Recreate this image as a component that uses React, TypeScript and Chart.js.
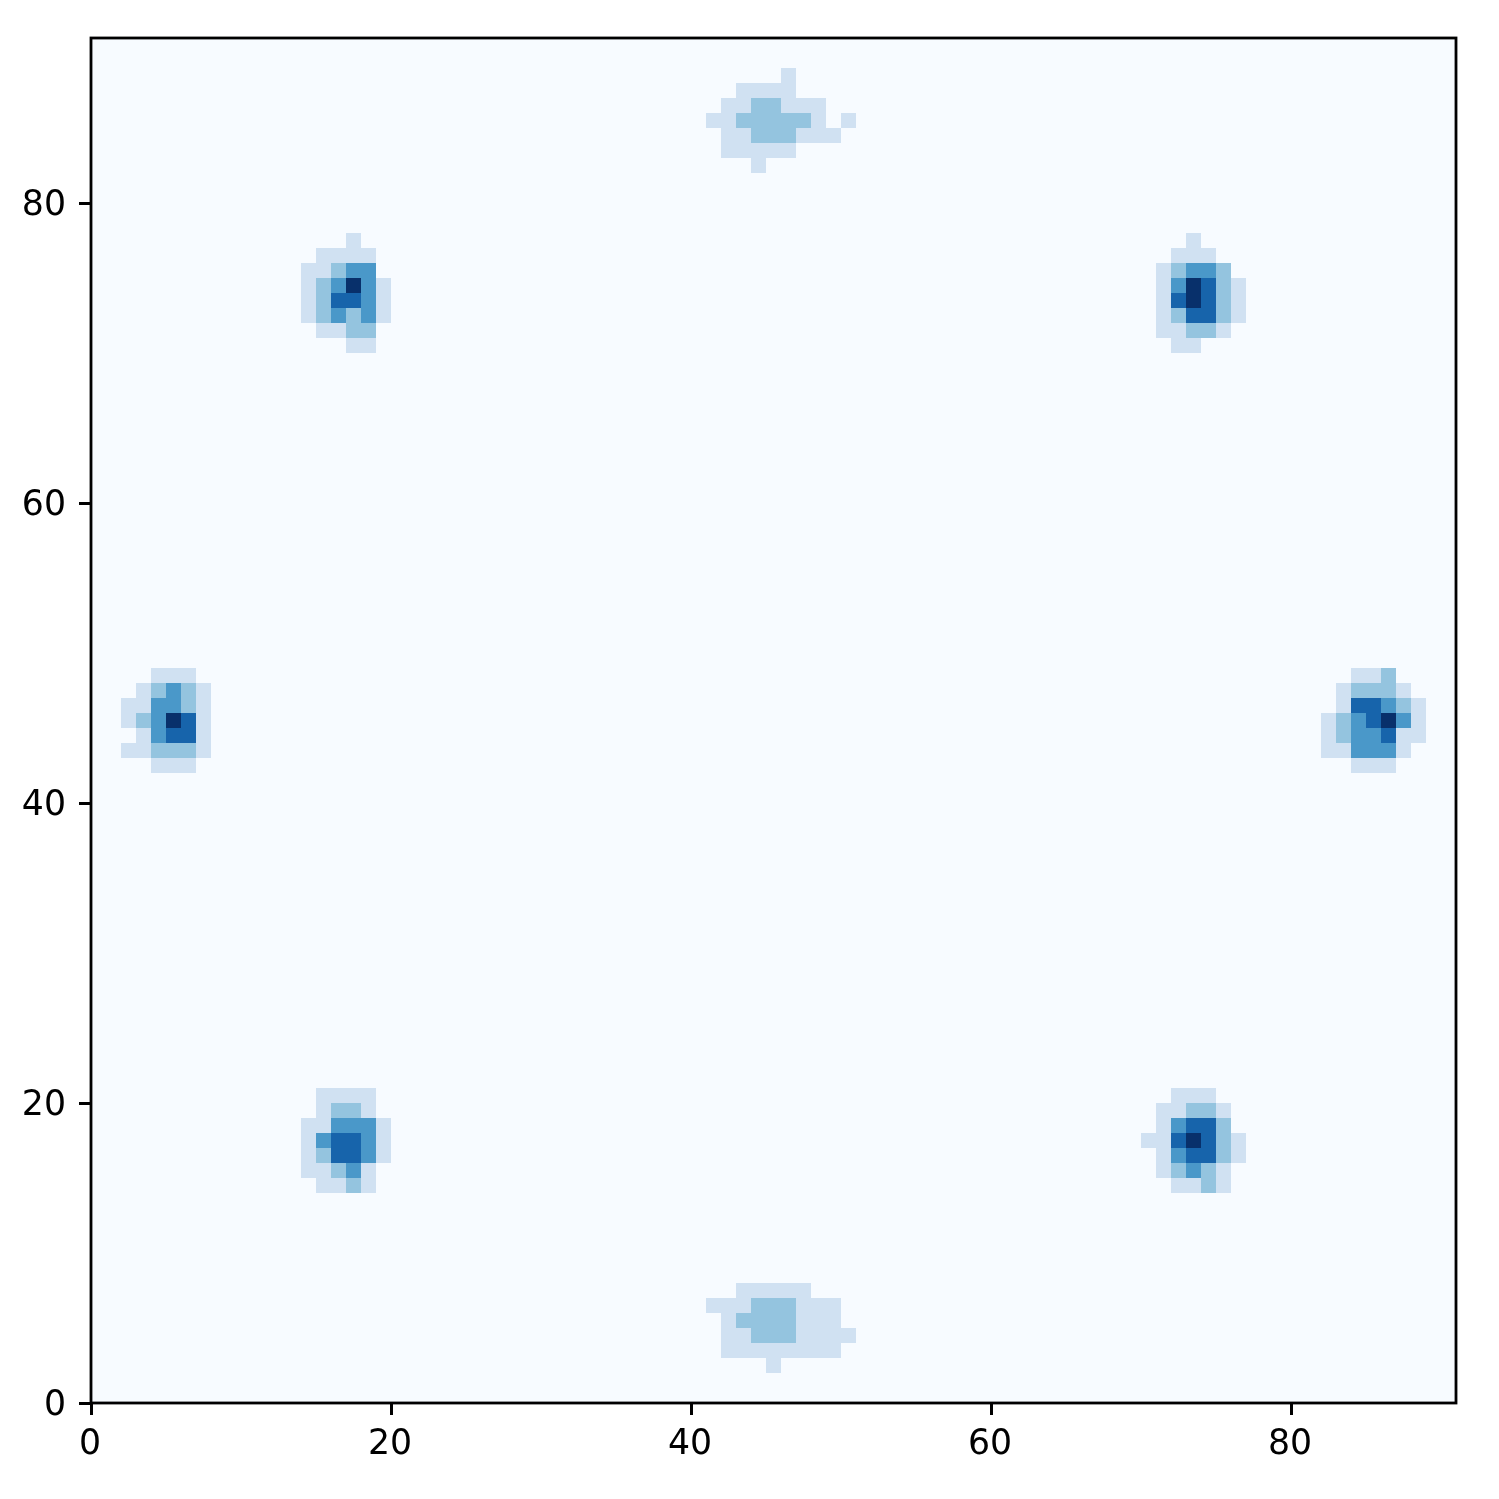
import React, { useEffect, useRef } from "react";
import { Chart, registerables } from "chart.js";

Chart.register(...registerables);

// Each entry: [row, first column, ...levels left to right]
const topCluster = [
  [88, 46, 1],
  [87, 43, 1, 1, 1, 1],
  [86, 42, 1, 1, 2, 2, 1, 1, 1],
  [85, 41, 1, 1, 2, 2, 2, 2, 2, 1, 0, 1],
  [84, 42, 1, 1, 2, 2, 2, 1, 1, 1],
  [83, 42, 1, 1, 1, 1, 1],
  [82, 44, 1],
];
const bottomCluster = [
  [7, 43, 1, 1, 1, 1, 1],
  [6, 41, 1, 1, 1, 2, 2, 2, 1, 1, 1],
  [5, 42, 1, 2, 2, 2, 2, 1, 1, 1],
  [4, 42, 1, 1, 2, 2, 2, 1, 1, 1, 1],
  [3, 42, 1, 1, 1, 1, 1, 1, 1, 1],
  [2, 45, 1],
];
const upperLeftCluster = [
  [77, 17, 1],
  [76, 15, 1, 1, 1, 1],
  [75, 14, 1, 1, 2, 3, 3],
  [74, 14, 1, 2, 3, 5, 3, 1],
  [73, 14, 1, 2, 4, 4, 3, 1],
  [72, 14, 1, 2, 3, 2, 3, 1],
  [71, 15, 1, 1, 2, 2],
  [70, 17, 1, 1],
];
const upperRightCluster = [
  [77, 73, 1],
  [76, 72, 1, 1, 1],
  [75, 71, 1, 2, 3, 3, 2],
  [74, 71, 1, 3, 5, 4, 2, 1],
  [73, 71, 1, 4, 5, 4, 2, 1],
  [72, 71, 1, 2, 4, 4, 2, 1],
  [71, 71, 1, 1, 2, 2, 1],
  [70, 72, 1, 1],
];
const leftCluster = [
  [48, 4, 1, 1, 1],
  [47, 3, 1, 2, 3, 2, 1],
  [46, 2, 1, 1, 3, 3, 2, 1],
  [45, 2, 1, 2, 3, 5, 4, 1],
  [44, 3, 1, 3, 4, 4, 1],
  [43, 2, 1, 1, 2, 2, 2, 1],
  [42, 4, 1, 1, 1],
];
const rightCluster = [
  [48, 84, 1, 1, 2],
  [47, 83, 1, 2, 2, 2, 1],
  [46, 83, 1, 4, 4, 3, 2, 1],
  [45, 82, 1, 2, 3, 4, 5, 3, 1],
  [44, 82, 1, 2, 3, 3, 4, 1, 1],
  [43, 82, 1, 1, 3, 3, 3, 1],
  [42, 84, 1, 1, 1],
];
const lowerLeftCluster = [
  [20, 15, 1, 1, 1, 1],
  [19, 15, 1, 2, 2, 1],
  [18, 14, 1, 1, 3, 3, 3, 1],
  [17, 14, 1, 3, 4, 4, 3, 1],
  [16, 14, 1, 2, 4, 4, 3, 1],
  [15, 14, 1, 1, 2, 3, 1],
  [14, 15, 1, 1, 2, 1],
];
const lowerRightCluster = [
  [20, 72, 1, 1, 1],
  [19, 71, 1, 1, 2, 2, 1],
  [18, 71, 1, 3, 4, 4, 2],
  [17, 70, 1, 1, 4, 5, 4, 2, 1],
  [16, 71, 1, 3, 4, 4, 2, 1],
  [15, 71, 1, 2, 3, 2, 1],
  [14, 72, 1, 1, 2, 1],
];

const gridSize = 91;
const levelColors = ["#f7fbff", "#d0e1f2", "#94c4df", "#4a98c9", "#1764ab", "#08306b"];
const tickValues = [0, 20, 40, 60, 80];

const clusters = [
  topCluster,
  bottomCluster,
  upperLeftCluster,
  upperRightCluster,
  leftCluster,
  rightCluster,
  lowerLeftCluster,
  lowerRightCluster,
];

function buildCells() {
  const levels = new Map<string, number>();
  for (const cluster of clusters) {
    for (const [row, col, ...values] of cluster) {
      values.forEach((v, i) => levels.set(`${row}:${col + i}`, v));
    }
  }
  const cells: { x: number; y: [number, number]; v: number }[] = [];
  for (let row = 0; row < gridSize; row++) {
    for (let col = 0; col < gridSize; col++) {
      cells.push({ x: col + 0.5, y: [row, row + 1], v: levels.get(`${row}:${col}`) ?? 0 });
    }
  }
  return cells;
}

const frame = {
  id: "frame",
  afterDatasetsDraw(chart: any) {
    const { ctx, chartArea: a } = chart;
    ctx.save();
    ctx.strokeStyle = "#000";
    ctx.lineWidth = 2.8;
    ctx.strokeRect(a.left, a.top, a.right - a.left, a.bottom - a.top);
    ctx.restore();
  },
};

function axis(size: (s: any) => void, padding: number, labelOffset: number) {
  return {
    type: "linear",
    min: 0,
    max: gridSize,
    offset: false,
    afterBuildTicks(s: any) {
      s.ticks = tickValues.map((value) => ({ value }));
    },
    afterFit: size,
    grid: {
      drawOnChartArea: false,
      drawTicks: true,
      tickLength: 12,
      tickWidth: 3,
      tickColor: "#000",
      offset: false,
    },
    border: { display: false },
    ticks: {
      autoSkip: false,
      maxRotation: 0,
      padding,
      labelOffset,
      color: "#000",
      font: { family: "'DejaVu Sans'", size: 34.7 },
    },
  };
}

export default function App() {
  const ref = useRef<HTMLCanvasElement>(null);
  useEffect(() => {
    const chart = new Chart(ref.current as HTMLCanvasElement, {
      type: "bar",
      data: {
        datasets: [
          {
            data: buildCells() as any,
            barThickness: 15,
            grouped: false,
            borderWidth: 0,
            inflateAmount: 0,
            backgroundColor: (c: any) => levelColors[c.raw?.v ?? 0],
          } as any,
        ],
      },
      options: {
        animation: false,
        responsive: false,
        layout: { padding: { top: 38, right: 43, left: 0, bottom: 0 } },
        plugins: { legend: { display: false }, tooltip: { enabled: false }, title: { display: false } },
        scales: {
          x: axis((s: any) => {
            s.height = 96;
          }, 9, -1),
          y: axis((s: any) => {
            s.width = 91;
          }, 13, 3),
        } as any,
      },
      plugins: [frame],
    });
    return () => chart.destroy();
  }, []);
  return (
    <div style={{ position: "absolute", left: 0, top: 0, width: 1499, height: 1499, background: "#fff" }}>
      <canvas ref={ref} width={1499} height={1499} style={{ display: "block" }} />
    </div>
  );
}
